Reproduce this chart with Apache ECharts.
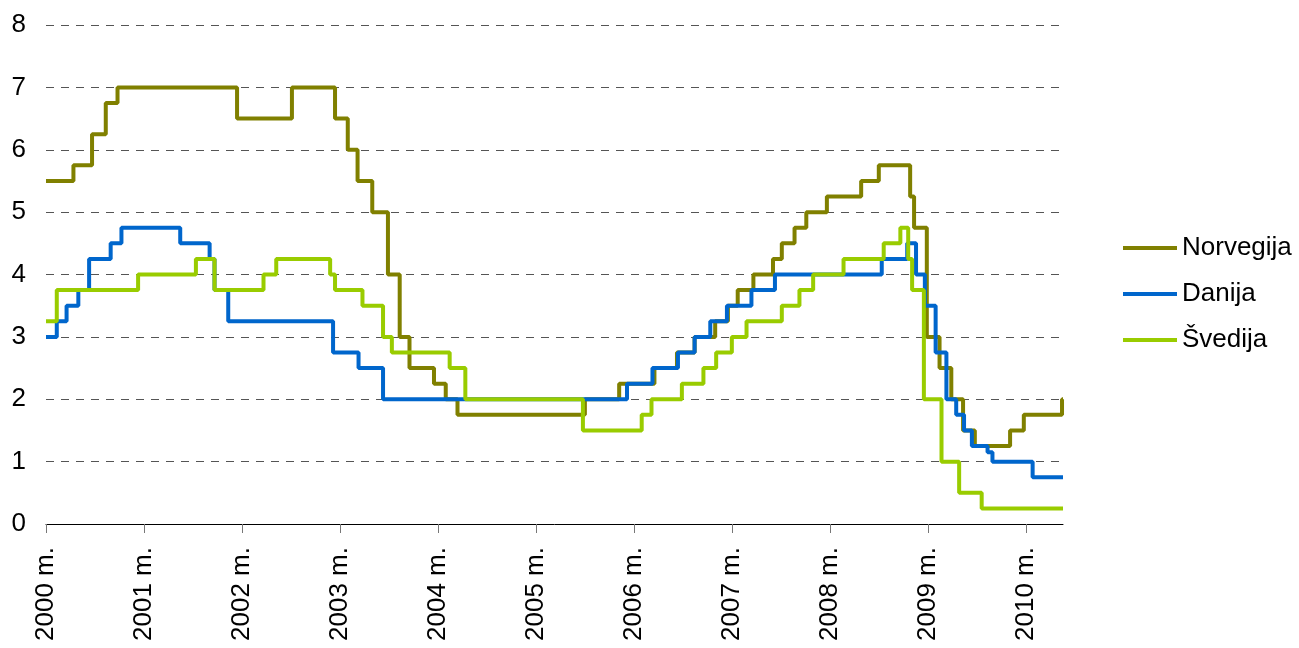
<!DOCTYPE html>
<html>
<head>
<meta charset="utf-8">
<script src="https://cdn.jsdelivr.net/npm/echarts@6/dist/echarts.min.js"></script>
<style>
  html, body { margin: 0; padding: 0; background: #fff; }
  #chart { width: 1299px; height: 648px; }
</style>
</head>
<body>
<div id="chart"></div>
<script>
// rate change points: decimal year -> new rate (%)
var endYear = 2010.38;
var years = [2000, 2001, 2002, 2003, 2004, 2005, 2006, 2007, 2008, 2009, 2010];

var norDates = [2000.0, 2000.28, 2000.47, 2000.61, 2000.73, 2001.95, 2002.51, 2002.95, 2003.08, 2003.18,
                2003.33, 2003.49, 2003.61, 2003.71, 2003.96, 2004.08, 2004.20, 2005.50, 2005.85, 2006.21,
                2006.44, 2006.62, 2006.83, 2006.96, 2007.06, 2007.22, 2007.42, 2007.51, 2007.64, 2007.76,
                2007.97, 2008.32, 2008.50, 2008.82, 2008.86, 2008.99, 2009.12, 2009.24, 2009.36, 2009.48,
                2009.84, 2009.98, 2010.37];
var norRates = [5.5, 5.75, 6.25, 6.75, 7, 6.5, 7, 6.5, 6, 5.5,
                5, 4, 3, 2.5, 2.25, 2, 1.75, 2, 2.25, 2.5,
                2.75, 3, 3.25, 3.5, 3.75, 4, 4.25, 4.5, 4.75, 5,
                5.25, 5.5, 5.75, 5.25, 4.75, 3, 2.5, 2, 1.5, 1.25,
                1.5, 1.75, 2];

var danDates = [2000.0, 2000.11, 2000.21, 2000.33, 2000.44, 2000.66, 2000.77, 2001.37, 2001.67, 2001.72,
                2001.86, 2002.93, 2003.19, 2003.44, 2005.93, 2006.19, 2006.45, 2006.62, 2006.78, 2006.95,
                2007.20, 2007.44, 2008.53, 2008.79, 2008.88, 2008.97, 2009.08, 2009.19, 2009.29, 2009.37,
                2009.45, 2009.61, 2009.66, 2010.07];
var danRates = [3, 3.25, 3.5, 3.75, 4.25, 4.5, 4.75, 4.5, 4.25, 3.75,
                3.25, 2.75, 2.5, 2, 2.25, 2.5, 2.75, 3, 3.25, 3.5,
                3.75, 4, 4.25, 4.5, 4, 3.5, 2.75, 2, 1.75, 1.5,
                1.25, 1.15, 1, 0.75];

var sveDates = [2000.0, 2000.11, 2000.94, 2001.53, 2001.72, 2002.22, 2002.35, 2002.90, 2002.95, 2003.23,
                2003.44, 2003.53, 2004.12, 2004.28, 2005.48, 2006.08, 2006.18, 2006.49, 2006.71, 2006.84,
                2007.00, 2007.15, 2007.51, 2007.69, 2007.83, 2008.14, 2008.55, 2008.72, 2008.80, 2008.84,
                2008.96, 2009.14, 2009.32, 2009.55];
var sveRates = [3.25, 3.75, 4, 4.25, 3.75, 4, 4.25, 4, 3.75, 3.5,
                3, 2.75, 2.5, 2, 1.5, 1.75, 2, 2.25, 2.5, 2.75,
                3, 3.25, 3.5, 3.75, 4, 4.25, 4.5, 4.75, 4.25, 3.75,
                2, 1, 0.5, 0.25];

var names = ['Norvegija', 'Danija', 'Švedija'];
var colors = ['#808000', '#0066CC', '#99CC00'];

function steps(dates, rates) {
    var out = [];
    for (var i = 0; i < dates.length; i++) out.push([dates[i], rates[i]]);
    out.push([endYear, rates[rates.length - 1]]);
    return out;
}

var font = "'Liberation Sans', Arial, sans-serif";
var chart = echarts.init(document.getElementById('chart'));

var series = [steps(norDates, norRates), steps(danDates, danRates), steps(sveDates, sveRates)].map(function (d, i) {
    return {
        name: names[i],
        type: 'line',
        step: 'end',
        symbol: 'none',
        color: colors[i],
        lineStyle: { width: 4, color: colors[i] },
        data: d
    };
});

chart.setOption({
    animation: false,
    backgroundColor: '#fff',
    grid: { left: 46, right: 236, top: 25, bottom: 124 },
    legend: {
        orient: 'vertical',
        left: 1118,
        top: 230,
        icon: 'rect',
        itemWidth: 54,
        itemHeight: 4,
        itemGap: 20,
        data: names,
        textStyle: { fontSize: 26, color: '#000', fontFamily: font }
    },
    xAxis: {
        type: 'value',
        min: 2000,
        max: endYear,
        interval: 1,
        axisLine: { show: true, lineStyle: { color: '#000', width: 1 } },
        axisTick: { show: true, length: 9, lineStyle: { color: '#777' }, customValues: years },
        axisLabel: {
            rotate: 90,
            margin: 23,
            fontSize: 26,
            color: '#000',
            fontFamily: font,
            customValues: years,
            formatter: function (v) { return v + ' m.'; }
        },
        splitLine: { show: false }
    },
    yAxis: {
        type: 'value',
        min: 0,
        max: 8,
        interval: 1,
        axisLine: { show: false },
        axisTick: { show: false },
        axisLabel: { fontSize: 26, color: '#000', fontFamily: font, margin: 20 },
        splitLine: { show: true, lineStyle: { color: '#555', type: [8, 7], width: 1 } }
    },
    series: series
});
</script>
</body>
</html>
